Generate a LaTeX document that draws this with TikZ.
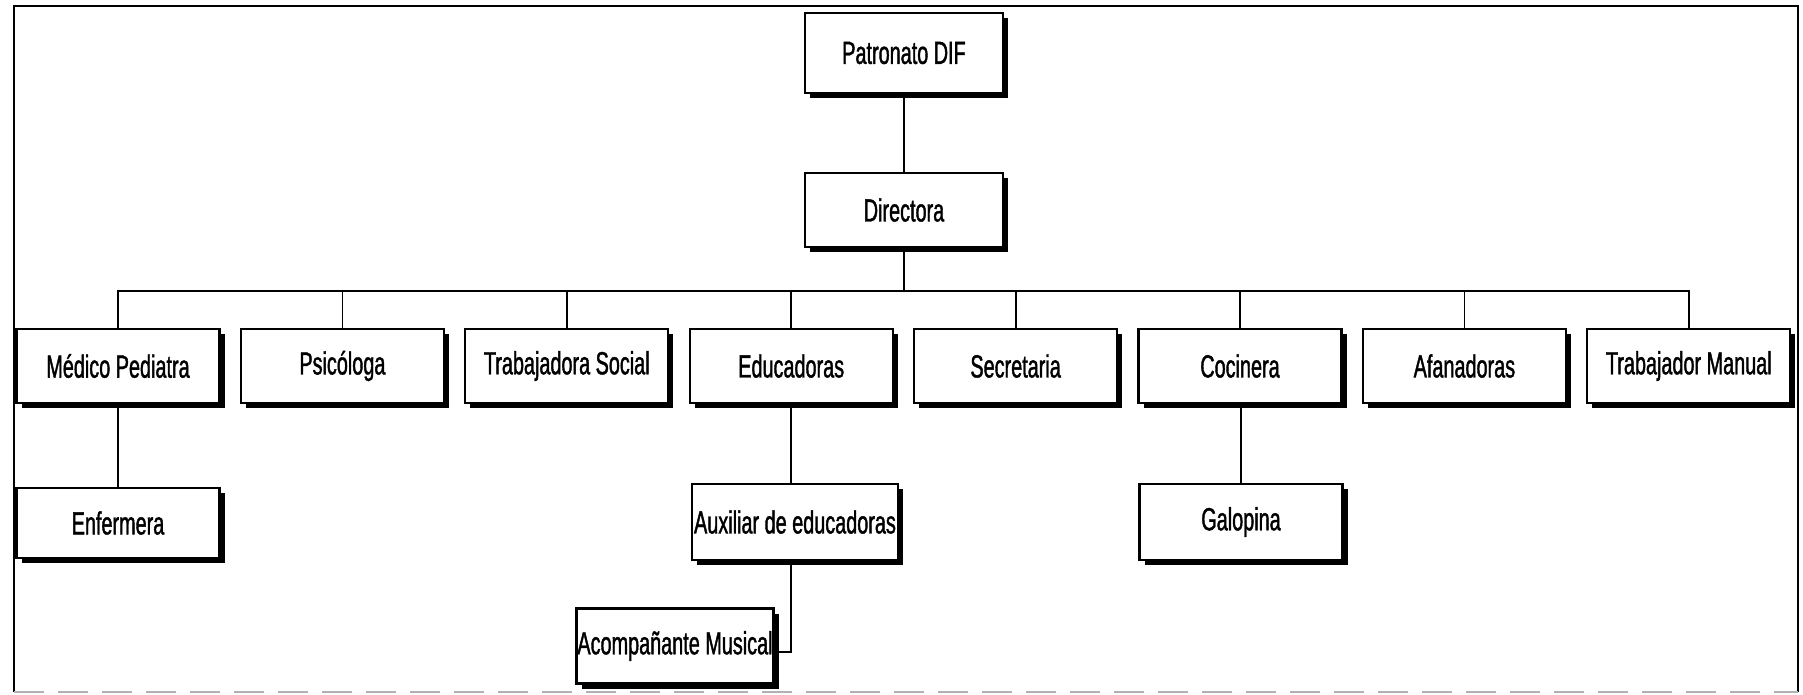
\documentclass[tikz,border=0pt]{standalone}
\usepackage{fontspec}
\setmainfont[FakeStretch=0.62,FakeBold=1.2]{Liberation Sans}
\usetikzlibrary{shadows}

\begin{document}
\begin{tikzpicture}[x=1pt,y=-1pt,
  cargo/.style={draw,line width=2.2pt,fill=white,minimum width=203pt,minimum height=76pt,
    inner sep=0pt,font=\fontsize{32}{38}\selectfont,
    drop shadow={shadow xshift=5pt,shadow yshift=-5pt,fill=black,opacity=1}},
  liga/.style={line width=1.8pt}]
\useasboundingbox (0,0) rectangle (1803,694);
% marco
\draw[line width=2.2pt] (14,692) -- (14,6) -- (1798,6) -- (1798,692);
\draw[black!30,line width=1.5pt,dash pattern=on 30pt off 14pt] (14,692) -- (1798,692);

\node[cargo,minimum width=198pt,minimum height=80pt] (pat) at (904,53) {Patronato DIF};
\node[cargo,minimum width=198pt,minimum height=74pt] (dir) at (904,210) {Directora};
\draw[liga] (pat.south) -- (dir.north);
\coordinate (bus) at (904,291);
\draw[liga] (dir.south) -- (bus);

\foreach \n/\t [count=\i from 0] in {med/Médico Pediatra,psi/Psicóloga,tsoc/Trabajadora Social,
    edu/Educadoras,sec/Secretaria,coc/Cocinera,afa/Afanadoras,tman/Trabajador Manual}
  {\node[cargo,minimum height=74pt] (\n) at ({118+224.4*\i},366) {\t};
   \draw[liga] (\n.north) |- (bus);}

\node[cargo,minimum height=70pt] (enf) at (118,523) {Enfermera};
\node[cargo,minimum width=206pt] (aux) at (795,522) {Auxiliar de educadoras};
\node[cargo] (gal) at (1241,522) {Galopina};
\node[cargo,minimum width=197pt,minimum height=75pt] (acm) at (675,646) {Acompañante Musical};

\draw[liga] (med.south) -- (enf.north);
\draw[liga] (edu.south) -- (edu.south |- aux.north);
\draw[liga] (gal.north |- coc.south) -- (gal.north);
\draw[liga] (edu.south |- aux.south) |- ([yshift=-6pt]acm.east);
\end{tikzpicture}
\end{document}
